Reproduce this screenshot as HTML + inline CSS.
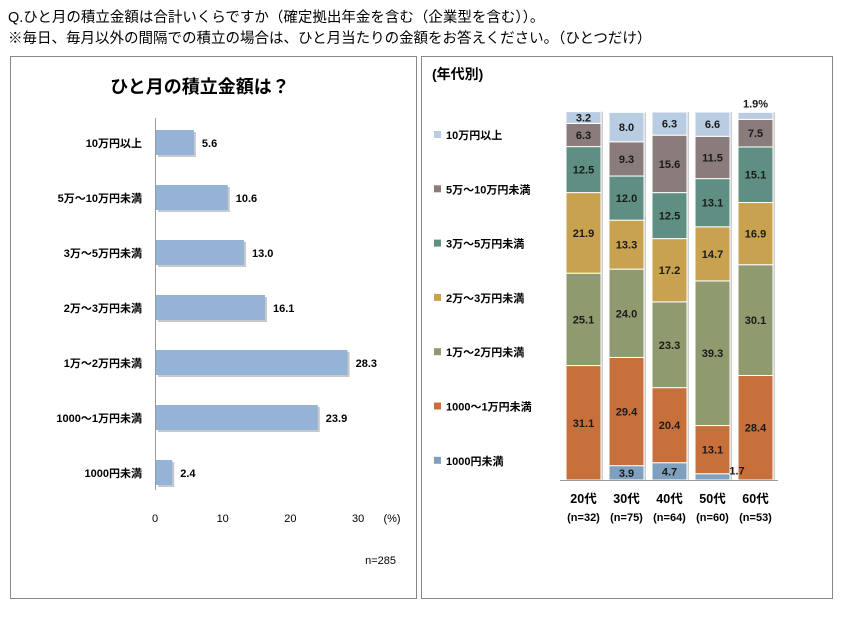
<!DOCTYPE html>
<html><head><meta charset="utf-8"><style>
body{margin:0;background:#fff;width:844px;height:618px;overflow:hidden;font-family:"Liberation Sans","Noto Sans CJK JP",sans-serif}
.t{position:absolute;left:8px;font-size:14.5px;color:#000;white-space:nowrap}
</style></head><body>
<div class="t" style="top:6px">Q.ひと月の積立金額は合計いくらですか（確定拠出年金を含む（企業型を含む））。</div>
<div class="t" style="top:27px">※毎日、毎月以外の間隔での積立の場合は、ひと月当たりの金額をお答えください。（ひとつだけ）</div>
<svg id="s" width="844" height="618" style="position:absolute;left:0;top:0" font-family="Liberation Sans, Noto Sans CJK JP, sans-serif"></svg>
<script>
var s=document.getElementById('s'),h='',tl='';
h+='<rect x="10.5" y="56.5" width="406" height="542" fill="none" stroke="#888"/>';
h+='<rect x="421.5" y="56.5" width="411" height="542" fill="none" stroke="#888"/>';
h+='<text x="200" y="93" font-size="18" font-weight="bold" text-anchor="middle">ひと月の積立金額は？</text>';
h+='<line x1="155.5" y1="118" x2="155.5" y2="490" stroke="#999"/>';
var L=['10万円以上','5万～10万円未満','3万～5万円未満','2万～3万円未満','1万～2万円未満','1000～1万円未満','1000円未満'];
var V=[5.6,10.6,13.0,16.1,28.3,23.9,2.4];
for(var i=0;i<7;i++){var y=130+i*55,w=V[i]*6.77;
h+='<rect x="158" y="'+(y+2)+'" width="'+w+'" height="25" fill="#c8c8c8"/>';
h+='<rect x="156" y="'+y+'" width="'+w+'" height="25" fill="#95b3d7"/>';
h+='<text x="142" y="'+(y+17)+'" font-size="11" font-weight="bold" text-anchor="end">'+L[i]+'</text>';
h+='<text x="'+(164+w)+'" y="'+(y+17)+'" font-size="11" font-weight="bold">'+V[i].toFixed(1)+'</text>';}
[0,10,20,30].forEach(function(v){h+='<text x="'+(155+v*6.77)+'" y="522" font-size="11" text-anchor="middle">'+v+'</text>';});
h+='<text x="392" y="522" font-size="11" text-anchor="middle">(%)</text>';
h+='<text x="396" y="564" font-size="11" text-anchor="end">n=285</text>';
h+='<text x="432" y="79" font-size="14" font-weight="bold">(年代別)</text>';
var C=['#7f9fbf','#c8703c','#8f9a6e','#c8a24f','#5f8f83','#8b7c7c','#b9cde2'];
var LL=['10万円以上','5万～10万円未満','3万～5万円未満','2万～3万円未満','1万～2万円未満','1000～1万円未満','1000円未満'];
for(var i=0;i<7;i++){var y=131+i*54.3;
h+='<rect x="434" y="'+y+'" width="7" height="7" fill="'+C[6-i]+'"/>';
h+='<text x="446" y="'+(y+8)+'" font-size="11" font-weight="bold">'+LL[i]+'</text>';}
var D=[[0,31.1,25.1,21.9,12.5,6.3,3.2],[3.9,29.4,24.0,13.3,12.0,9.3,8.0],[4.7,20.4,23.3,17.2,12.5,15.6,6.3],[1.7,13.1,39.3,14.7,13.1,11.5,6.6],[0,28.4,30.1,16.9,15.1,7.5,1.9]];
var G=['20代','30代','40代','50代','60代'],N=['(n=32)','(n=75)','(n=64)','(n=60)','(n=53)'];
var base=480,k=3.68;
for(var c=0;c<5;c++){var x=566+c*43,y=base;
for(var j=0;j<7;j++){var v=D[c][j];if(!v)continue;var hh=v*k;y-=hh;
h+='<rect x="'+(x+2)+'" y="'+y+'" width="35" height="'+hh+'" fill="#ccc"/>';
h+='<rect x="'+x+'" y="'+y+'" width="35" height="'+hh+'" fill="'+C[j]+'" stroke="#fff" stroke-width="1"/>';
var lbl=v.toFixed(1),tx=x+17.5,ty=y+hh/2+4;
if(c==3&&j==0){tx=x+42;ty=y+1;}
if(c==4&&j==6){lbl='1.9%';ty=y-5;}
tl+='<text x="'+tx+'" y="'+ty+'" font-size="11" font-weight="bold" text-anchor="middle" fill="#1a1a1a">'+lbl+'</text>';}
h+='<text x="'+(x+17.5)+'" y="503" font-size="12.5" font-weight="bold" text-anchor="middle">'+G[c]+'</text>';
h+='<text x="'+(x+17.5)+'" y="521" font-size="11" font-weight="bold" text-anchor="middle">'+N[c]+'</text>';}
h+='<line x1="560" y1="480.5" x2="778" y2="480.5" stroke="#999"/>';
s.innerHTML=h+tl;
</script>
</body></html>
